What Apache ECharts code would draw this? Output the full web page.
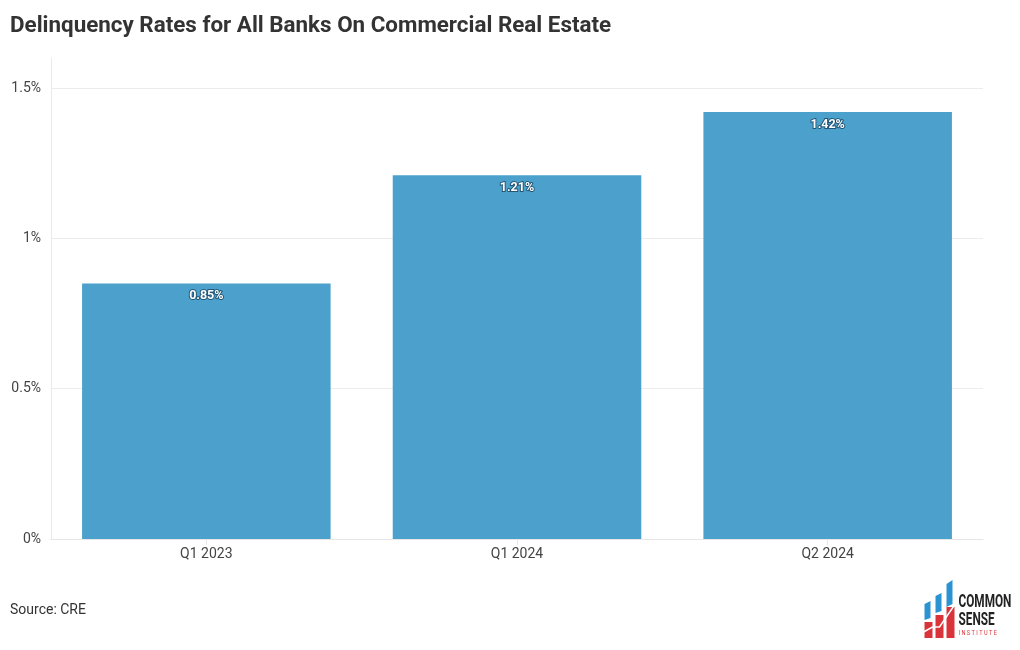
<!DOCTYPE html>
<html>
<head>
<meta charset="utf-8">
<script src="https://cdn.jsdelivr.net/npm/echarts@6/dist/echarts.min.js"></script>
<style>html,body{margin:0;padding:0;background:#fff;}#c{width:1020px;height:650px;}</style>
</head>
<body>
<div id="c"></div>
<script>
const categories = ['Q1 2023', 'Q1 2024', 'Q2 2024'];
const rates = [0.85, 1.21, 1.42];
const yTicks = [0, 0.5, 1, 1.5];

const chart = echarts.init(document.getElementById('c'), null, {renderer: 'canvas'});
const font = 'Roboto, "Noto Sans", sans-serif';
const blue = '#2b93d1', red = '#d9343a';
chart.setOption({
  animation: false,
  backgroundColor: '#ffffff',
  title: {
    text: 'Delinquency Rates for All Banks On Commercial Real Estate',
    left: 5, top: 10,
    textStyle: {fontFamily: font, fontSize: 22.4, fontWeight: 'bold', color: '#333333'}
  },
  grid: {left: 51, right: 37, top: 58, bottom: 111, containLabel: false},
  xAxis: {
    type: 'category',
    data: categories,
    axisLine: {show: true, lineStyle: {color: '#e6e6e6', width: 1}},
    axisTick: {show: true, alignWithLabel: true, length: 6, lineStyle: {color: '#e6e6e6'}},
    axisLabel: {fontFamily: font, fontSize: 14, color: '#444444', margin: 8}
  },
  yAxis: {
    type: 'value',
    min: 0, max: 1.6, interval: 0.5,
    axisLine: {show: true, lineStyle: {color: '#ebebeb'}},
    axisTick: {show: false},
    axisLabel: {
      fontFamily: font, fontSize: 14, color: '#444444', margin: 10, showMaxLabel: false,
      formatter: v => (yTicks.indexOf(v) >= 0 ? v + '%' : '')
    },
    splitLine: {show: true, lineStyle: {color: ['#ececec', '#ececec', '#ececec', '#ececec', 'rgba(0,0,0,0)'], width: 1}}
  },
  series: [{
    type: 'bar',
    data: rates,
    barCategoryGap: '20%',
    itemStyle: {color: '#4ba1cc'},
    label: {
      show: true, position: 'insideTop', distance: 6,
      formatter: p => p.value.toFixed(2) + '%',
      fontFamily: font, fontSize: 12.5, fontWeight: 'bold', color: '#ffffff',
      textBorderColor: 'rgba(20,60,90,0.75)', textBorderWidth: 2
    }
  }],
  graphic: [
    {type: 'text', left: 10, top: 603, style: {text: 'Source: CRE', font: '14px ' + font, fill: '#333333'}},
    {type: 'group', left: 921, top: 580, children: [
      {type: 'polygon', shape: {points: [[1,24],[7,21],[7,38],[1,40]]}, style: {fill: blue}},
      {type: 'polygon', shape: {points: [[12,16],[18,13],[18,31],[12,33]]}, style: {fill: blue}},
      {type: 'polygon', shape: {points: [[23,4],[29,0],[29,24],[23,27]]}, style: {fill: blue}},
      {type: 'rect', shape: {x: 1, y: 42, width: 8, height: 16}, style: {fill: red}},
      {type: 'rect', shape: {x: 12, y: 35, width: 8, height: 23}, style: {fill: red}},
      {type: 'rect', shape: {x: 23, y: 27, width: 8, height: 31}, style: {fill: red}},
      {type: 'polyline', shape: {points: [[0,52],[9,47],[16,47],[31,25]]}, style: {stroke: '#ffffff', lineWidth: 1.5, fill: null}},
      {type: 'text', x: 35, y: 13, scaleX: 0.62, style: {text: 'COMMON', font: 'bold 19px ' + font, fill: '#222222'}},
      {type: 'text', x: 35, y: 31, scaleX: 0.62, style: {text: 'SENSE', font: 'bold 19px ' + font, fill: '#222222'}},
      {type: 'text', x: 35, y: 50, scaleX: 0.8, style: {text: 'I N S T I T U T E', font: '7px ' + font, fill: red}}
    ]}
  ]
});
</script>
</body>
</html>
